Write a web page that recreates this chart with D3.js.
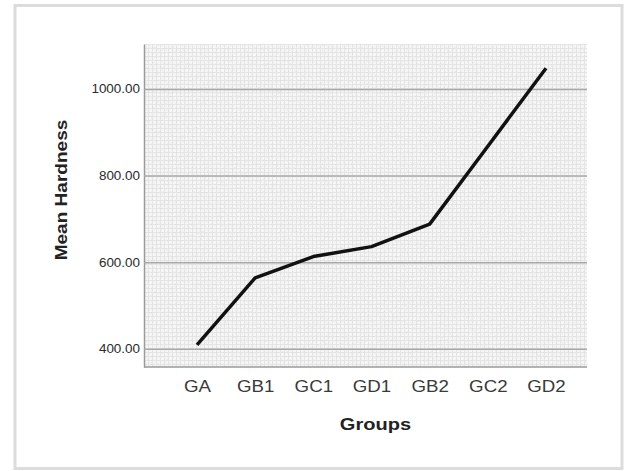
<!DOCTYPE html>
<html>
<head>
<meta charset="utf-8">
<script src="https://cdn.jsdelivr.net/npm/d3@7"></script>
<style>
  body { margin: 0; background: #fff; }
  svg { display: block; font-family: "Liberation Sans", Arial, sans-serif; }
</style>
</head>
<body>
<div id="chart"></div>
<script>
// Données
const groups = ['GA', 'GB1', 'GC1', 'GD1', 'GB2', 'GC2', 'GD2'];
const meanHardness = [409, 564, 613, 636, 688, 868, 1048];
const yTicks = [400, 600, 800, 1000];
const yDomain = [358, 1104];

const config = {
  width: 624,
  height: 471,
  plot: { left: 144, right: 587, top: 44, bottom: 367 }
};

const svg = d3.select('#chart').append('svg')
  .attr('width', config.width)
  .attr('height', config.height);

// L'image d'origine est un peu étirée en largeur : on élargit les textes
function stretch (sel, factor) {
  sel.each(function () {
    const w = this.getComputedTextLength();
    d3.select(this)
      .attr('textLength', w * factor)
      .attr('lengthAdjust', 'spacingAndGlyphs');
  });
}

// Cadre extérieur
svg.append('rect')
  .attr('x', 15).attr('y', 5.5)
  .attr('width', 607).attr('height', 463)
  .attr('fill', 'white')
  .attr('stroke', '#dcdcdc')
  .attr('stroke-width', 3);

// Texture du fond (papier)
const defs = svg.append('defs');
const pat = defs.append('pattern')
  .attr('id', 'grain')
  .attr('width', 4).attr('height', 4)
  .attr('patternUnits', 'userSpaceOnUse');
pat.append('rect').attr('width', 4).attr('height', 4).attr('fill', '#f7f7f7');
pat.append('path').attr('d', 'M0,0.5H4M0.5,0V4')
  .attr('stroke', '#e3e3e3').attr('stroke-width', 0.8);

const noise = defs.append('filter').attr('id', 'noise')
  .attr('x', 0).attr('y', 0).attr('width', '100%').attr('height', '100%');
noise.append('feTurbulence')
  .attr('type', 'fractalNoise').attr('baseFrequency', 0.8)
  .attr('numOctaves', 2).attr('seed', 3).attr('result', 't');
noise.append('feColorMatrix')
  .attr('type', 'matrix')
  .attr('values', '0 0 0 0 0.55  0 0 0 0 0.55  0 0 0 0 0.55  0 0 0 -2.4 1.3');

const p = config.plot;
const g = svg.append('g');
g.append('rect')
  .attr('x', p.left).attr('y', p.top)
  .attr('width', p.right - p.left).attr('height', p.bottom - p.top)
  .attr('fill', 'url(#grain)');
g.append('rect')
  .attr('x', p.left).attr('y', p.top)
  .attr('width', p.right - p.left).attr('height', p.bottom - p.top)
  .attr('filter', 'url(#noise)')
  .attr('opacity', 0.3);

// Échelles
const xScale = d3.scalePoint()
  .domain(groups)
  .range([p.left + 53, p.right - 41]);

const yScale = d3.scaleLinear()
  .domain(yDomain)
  .range([p.bottom, p.top]);

// Axe Y avec lignes de grille
const yAxis = g.append('g')
  .attr('transform', `translate(${p.left},0)`)
  .call(d3.axisLeft(yScale)
    .tickValues(yTicks)
    .tickFormat(d3.format('.2f'))
    .tickSize(-(p.right - p.left))
    .tickSizeOuter(0)
    .tickPadding(4));
yAxis.select('.domain').attr('stroke', '#9a9a9a').attr('stroke-width', 1.5);
yAxis.selectAll('.tick line').attr('stroke', '#a8a8a8').attr('stroke-width', 1.5);
yAxis.selectAll('.tick text')
  .attr('fill', '#2a2a2a')
  .attr('font-size', 12)
  .call(stretch, 1.12);

// Axe X
const xAxis = g.append('g')
  .attr('transform', `translate(0,${p.bottom})`)
  .call(d3.axisBottom(xScale).tickSize(0).tickPadding(13));
xAxis.select('.domain')
  .attr('d', `M${p.left},0H${p.right}`)
  .attr('stroke', '#9a9a9a').attr('stroke-width', 1.5);
xAxis.selectAll('.tick text')
  .attr('fill', '#3a3a3a')
  .attr('font-size', 17)
  .call(stretch, 1.1);

// Ligne des moyennes
const line = d3.line()
  .x((d, i) => xScale(groups[i]))
  .y(d => yScale(d));
g.append('path')
  .datum(meanHardness)
  .attr('d', line)
  .attr('fill', 'none')
  .attr('stroke', '#111')
  .attr('stroke-width', 3.5)
  .attr('stroke-linejoin', 'round');

// Titres des axes
svg.append('text')
  .text('Groups')
  .attr('x', (p.left + p.right) / 2 + 10)
  .attr('y', 430)
  .attr('text-anchor', 'middle')
  .attr('font-size', 17)
  .attr('font-weight', 'bold')
  .attr('fill', '#222')
  .call(stretch, 1.18);

svg.append('text')
  .text('Mean Hardness')
  .attr('transform', 'translate(67,190),rotate(-90)')
  .attr('text-anchor', 'middle')
  .attr('font-size', 17)
  .attr('font-weight', 'bold')
  .attr('fill', '#222')
  .call(stretch, 1.12);
</script>
</body>
</html>
